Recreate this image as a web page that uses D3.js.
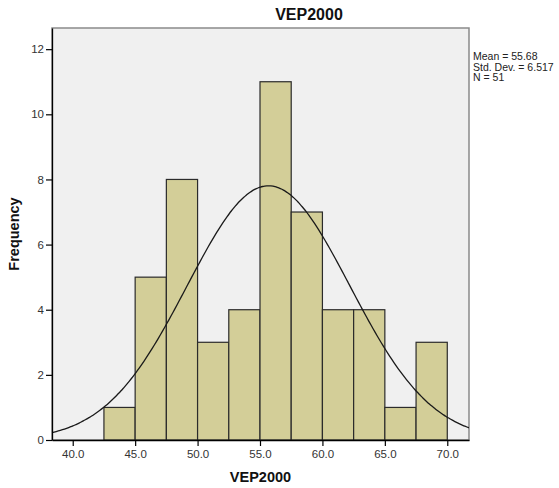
<!DOCTYPE html>
<html>
<head>
<meta charset="utf-8">
<script src="https://cdn.jsdelivr.net/npm/d3@7"></script>
<style>
  html, body { margin: 0; padding: 0; background: #fff; }
  svg { display: block; font-family: "Liberation Sans", Arial, sans-serif; }
</style>
</head>
<body>
<svg id="chart" width="559" height="488"></svg>
<script>
// ---- data ----
const binStarts = [42.5, 45.0, 47.5, 50.0, 52.5, 55.0, 57.5, 60.0, 62.5, 65.0, 67.5];
const counts    = [1, 5, 8, 3, 4, 11, 7, 4, 4, 1, 3];
const binWidth  = 2.5;
const xTicks    = [40, 45, 50, 55, 60, 65, 70];
const yTicks    = [0, 2, 4, 6, 8, 10, 12];
const statMean  = 55.68;
const statSD    = 6.517;
const statN     = 51;
const title     = "VEP2000";
const xLabel    = "VEP2000";
const yLabel    = "Frequency";

// ---- layout ----
const svg = d3.select("#chart");
const plot = { left: 52, right: 469, top: 28, bottom: 440 };

const x = d3.scaleLinear().domain([38.34, 71.74]).range([plot.left, plot.right]);
const y = d3.scaleLinear().domain([0, 12.65]).range([plot.bottom, plot.top]);

// background
svg.append("rect")
  .attr("x", plot.left).attr("y", plot.top)
  .attr("width", plot.right - plot.left).attr("height", plot.bottom - plot.top)
  .attr("fill", "#f0f0f0")
  .attr("stroke", "#8a8a8a").attr("stroke-width", 1.5);

svg.append("defs").append("clipPath").attr("id", "clip")
  .append("rect")
  .attr("x", plot.left).attr("y", plot.top)
  .attr("width", plot.right - plot.left).attr("height", plot.bottom - plot.top);

// bars
const bars = binStarts.map((s, i) => ({ x0: s, x1: s + binWidth, n: counts[i] }));
svg.append("g").selectAll("rect").data(bars).join("rect")
  .attr("x", d => x(d.x0))
  .attr("y", d => y(d.n))
  .attr("width", d => x(d.x1) - x(d.x0))
  .attr("height", d => y(0) - y(d.n))
  .attr("fill", "#d3ce98")
  .attr("stroke", "#2b2b2b")
  .attr("stroke-width", 1.2);

// normal curve (fitted from the reported mean, sd and N)
const [xa, xb] = x.domain();
const curvePts = d3.range(0, 201).map(i => xa + (xb - xa) * i / 200);
const scaleK = statN * binWidth / (statSD * Math.sqrt(2 * Math.PI));
const line = d3.line()
  .x(v => x(v))
  .y(v => y(scaleK * Math.exp(-0.5 * Math.pow((v - statMean) / statSD, 2))))
  .curve(d3.curveBasis);
svg.append("path")
  .datum(curvePts)
  .attr("d", line)
  .attr("fill", "none")
  .attr("stroke", "#1a1a1a")
  .attr("stroke-width", 1.3)
  .attr("clip-path", "url(#clip)");

// axes
const xAxis = d3.axisBottom(x).tickValues(xTicks).tickFormat(d3.format(".1f"))
  .tickSizeInner(6).tickSizeOuter(0).tickPadding(4);
const gx = svg.append("g").attr("transform", `translate(0,${plot.bottom})`).call(xAxis);
gx.select(".domain").attr("stroke", "#000").attr("stroke-width", 1.3);
gx.selectAll(".tick line").attr("stroke", "#000").attr("stroke-width", 1.2);
gx.selectAll(".tick text").attr("font-size", 11.5).attr("fill", "#333")
  .attr("font-family", "'Liberation Sans', Arial, sans-serif");

const yAxis = d3.axisLeft(y).tickValues(yTicks).tickFormat(d3.format("d"))
  .tickSizeInner(6).tickSizeOuter(0).tickPadding(2);
const gy = svg.append("g").attr("transform", `translate(${plot.left},0)`).call(yAxis);
gy.select(".domain").attr("stroke", "#000").attr("stroke-width", 1.3);
gy.selectAll(".tick line").attr("stroke", "#000").attr("stroke-width", 1.2);
gy.selectAll(".tick text").attr("font-size", 11.5).attr("fill", "#333")
  .attr("font-family", "'Liberation Sans', Arial, sans-serif");

// titles
svg.append("text")
  .attr("x", 309).attr("y", 20)
  .attr("text-anchor", "middle")
  .attr("font-size", 16).attr("font-weight", "bold").attr("fill", "#111")
  .text(title);

svg.append("text")
  .attr("x", (plot.left + plot.right) / 2).attr("y", 482)
  .attr("text-anchor", "middle")
  .attr("font-size", 14.5).attr("font-weight", "bold").attr("fill", "#111")
  .text(xLabel);

svg.append("text")
  .attr("transform", `translate(19,${(plot.top + plot.bottom) / 2}) rotate(-90)`)
  .attr("text-anchor", "middle")
  .attr("font-size", 14.5).attr("font-weight", "bold").attr("fill", "#111")
  .text(yLabel);

// stats box text
const statLines = [
  `Mean = ${statMean.toFixed(2)}`,
  `Std. Dev. = ${statSD.toFixed(3)}`,
  `N = ${statN}`
];
svg.append("g").selectAll("text").data(statLines).join("text")
  .attr("x", 473)
  .attr("y", (d, i) => 60 + i * 10.5)
  .attr("font-size", 10.5).attr("fill", "#222")
  .text(d => d);
</script>
</body>
</html>
